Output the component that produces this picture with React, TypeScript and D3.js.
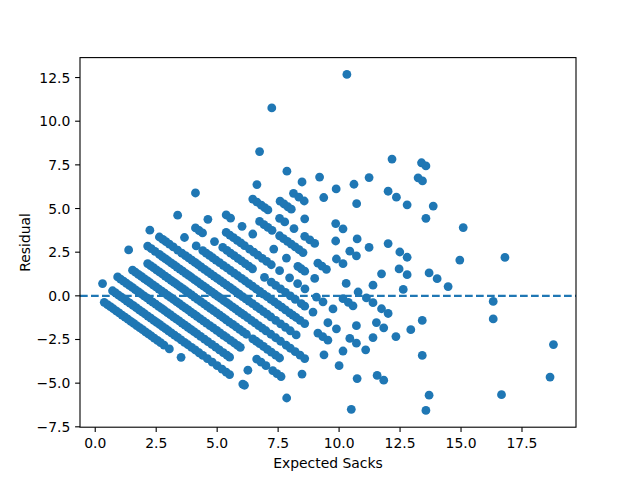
import React from 'react'
import * as d3 from 'd3'

const width = 640
const height = 480
const margin = { top: 57.6, right: 64, bottom: 52.8, left: 80 }
const dotColor = '#1f77b4'
const font = 'DejaVu Sans, sans-serif'

// expected sacks per player, grouped by the number of sacks he actually got
const exp0 = [0.37, 0.5, 0.62, 0.74, 0.86, 0.98, 1.1, 1.22, 1.34, 1.46, 1.58, 1.7, 1.82, 1.94, 2.06, 2.18, 2.3, 2.42, 2.55, 2.68, 2.82, 3.04, 3.52]
const exp1 = [0.3, 0.71, 0.82, 0.94, 1.06, 1.18, 1.3, 1.42, 1.55, 1.68, 1.8, 1.92, 2.04, 2.16, 2.28, 2.4, 2.52, 2.64, 2.76, 2.88, 3.0, 3.12, 3.25, 3.38, 3.52, 3.66, 3.8, 3.95, 4.1, 4.26, 4.41, 4.6, 4.8, 5.0, 5.2, 5.37, 5.51, 6.05, 6.12]
const exp2 = [0.92, 1.04, 1.16, 1.28, 1.4, 1.52, 1.64, 1.76, 1.88, 2.0, 2.12, 2.24, 2.36, 2.48, 2.6, 2.72, 2.84, 2.96, 3.08, 3.2, 3.32, 3.44, 3.56, 3.68, 3.8, 3.92, 4.05, 4.18, 4.32, 4.48, 4.62, 4.78, 4.94, 5.09, 5.25, 5.4, 5.51, 6.26, 7.85]
const exp3 = [1.53, 1.65, 1.77, 1.89, 2.01, 2.13, 2.25, 2.37, 2.49, 2.61, 2.73, 2.85, 2.97, 3.09, 3.21, 3.33, 3.45, 3.57, 3.69, 3.81, 3.93, 4.05, 4.17, 4.3, 4.43, 4.56, 4.7, 4.84, 4.98, 5.12, 5.26, 5.4, 5.55, 5.7, 5.84, 5.95, 6.62, 6.8, 7.0, 7.28, 7.45, 7.62]
const exp4 = [1.37, 2.15, 2.27, 2.39, 2.51, 2.63, 2.75, 2.87, 2.99, 3.11, 3.23, 3.35, 3.47, 3.59, 3.71, 3.83, 3.95, 4.07, 4.2, 4.33, 4.46, 4.59, 4.72, 4.85, 4.98, 5.11, 5.24, 5.37, 5.5, 5.64, 5.78, 5.92, 6.06, 6.2, 6.46, 6.6, 6.74, 6.9, 7.06, 7.22, 7.4, 7.56, 8.48, 10.5]
const exp5 = [2.15, 2.3, 2.45, 2.63, 2.75, 2.87, 2.99, 3.11, 3.23, 3.35, 3.47, 3.59, 3.71, 3.83, 3.95, 4.07, 4.19, 4.31, 4.43, 4.55, 4.67, 4.79, 4.91, 5.03, 5.15, 5.27, 5.39, 5.51, 5.63, 5.75, 5.87, 5.99, 6.11, 6.25, 6.4, 6.55, 6.7, 6.85, 7.0, 7.2, 7.4, 7.6, 7.83, 8.0, 8.2, 8.4, 8.59]
const exp6 = [2.24, 2.63, 2.77, 2.9, 3.04, 3.2, 3.38, 3.55, 3.7, 3.83, 3.96, 4.09, 4.22, 4.35, 4.48, 4.61, 4.74, 4.87, 5.0, 5.13, 5.26, 5.39, 5.52, 5.65, 5.78, 5.91, 6.04, 6.17, 6.3, 6.45, 6.6, 6.75, 6.9, 7.05, 7.2, 7.4, 7.6, 7.8, 8.0, 8.24, 9.38, 10.0, 10.74]
const exp7 = [3.66, 4.14, 4.41, 4.55, 4.68, 4.82, 4.95, 5.1, 5.25, 5.4, 5.55, 5.7, 5.85, 6.0, 6.15, 6.3, 6.45, 6.6, 6.75, 6.9, 7.05, 7.2, 7.35, 7.5, 7.65, 7.8, 7.97, 8.1, 8.24, 8.4, 8.59, 9.13, 9.33, 9.54, 10.16, 11.56, 11.83, 13.56]
const exp8 = [3.38, 4.11, 4.26, 4.4, 4.89, 5.23, 5.4, 5.55, 5.7, 5.85, 6.0, 6.15, 6.3, 6.45, 6.94, 7.22, 7.4, 7.6, 7.8, 8.0, 8.2, 8.45, 8.59, 8.93, 9.54, 9.89, 10.44, 10.71, 11.09, 13.69]
const exp9 = [4.62, 5.37, 5.52, 5.67, 5.82, 5.97, 6.12, 6.33, 6.5, 6.67, 6.85, 7.03, 7.22, 7.56, 7.97, 8.3, 8.6, 9.07, 9.34, 9.75, 10.71, 11.39]
const exp10 = [4.11, 5.37, 5.55, 6.02, 6.46, 7.32, 7.84, 8.31, 8.45, 8.59, 9.0, 10.16, 10.38, 10.57, 11.53, 11.83, 12.33, 13.41]
const exp11 = [6.74, 6.92, 7.08, 7.25, 7.56, 7.72, 7.88, 8.04, 8.2, 8.36, 8.52, 9.13, 9.3, 9.48, 10.29, 10.78, 11.12, 11.39, 11.74, 12.01, 12.94, 16.66]
const exp12 = [6.46, 6.63, 6.81, 6.95, 7.08, 7.56, 7.77, 8.15, 8.59, 8.8, 9.0, 9.89, 10.16, 11.39, 13.41]
const exp13 = [6.63, 7.58, 7.74, 7.9, 8.04, 8.59, 9.86, 10.44, 10.71, 11.74, 12.63]
const exp14 = [8.13, 8.35, 8.57, 9.86, 10.16, 10.74, 11.23, 12.46, 12.79, 18.65]
const exp15 = [6.74, 7.86, 8.48, 9.37, 12.01, 12.49, 12.79, 13.69, 14.02, 14.47, 16.32]
const exp16 = [9.2, 9.88, 10.72, 16.32, 18.79]
const exp17 = [10.61, 14.95]
const exp18 = [7.24, 11.23, 12.01, 12.35, 12.79, 13.56]
const exp19 = [13.86, 15.09, 16.8]
const exp20 = [12.17, 13.24, 13.42]
const exp21 = [13.38, 13.56]
const exp23 = [10.32]

const groups: [number, number[]][] = [
  [0, exp0], [1, exp1], [2, exp2], [3, exp3], [4, exp4], [5, exp5], [6, exp6],
  [7, exp7], [8, exp8], [9, exp9], [10, exp10], [11, exp11], [12, exp12],
  [13, exp13], [14, exp14], [15, exp15], [16, exp16], [17, exp17], [18, exp18],
  [19, exp19], [20, exp20], [21, exp21], [23, exp23],
]

const xTicks = [0, 2.5, 5, 7.5, 10, 12.5, 15, 17.5]
const yTicks = [-7.5, -5, -2.5, 0, 2.5, 5, 7.5, 10, 12.5]

// residual = actual - expected
const points = groups.flatMap(([actual, xs]) => xs.map(e => ({ expected: e, residual: actual - e })))

// matplotlib style 5% padding
const pad = (ext: [number, number]) => {
  const r = ext[1] - ext[0]
  return [ext[0] - r * 0.05, ext[1] + r * 0.05]
}

const App = () => {
  const innerW = width - margin.left - margin.right
  const innerH = height - margin.top - margin.bottom

  const x = d3.scaleLinear()
    .domain(pad(d3.extent(points, d => d.expected) as [number, number]))
    .range([margin.left, margin.left + innerW])
  const y = d3.scaleLinear()
    .domain(pad(d3.extent(points, d => d.residual) as [number, number]))
    .range([margin.top + innerH, margin.top])

  const fmt = d3.format('.1f')
  const bottom = margin.top + innerH
  const right = margin.left + innerW

  return (
    <svg width={width} height={height} style={{ position: 'absolute', left: 0, top: 0, background: '#fff' }}>
      <rect x={0} y={0} width={width} height={height} fill="#fff" />
      <g>
        {points.map((d, i) => (
          <circle key={i} cx={x(d.expected)} cy={y(d.residual)} r={4.4} fill={dotColor} />
        ))}
      </g>
      <line x1={margin.left} x2={right} y1={y(0)} y2={y(0)} stroke={dotColor} strokeWidth={2.08} strokeDasharray="7.7 3.3" />
      <rect x={margin.left} y={margin.top} width={innerW} height={innerH} fill="none" stroke="#000" strokeWidth={1.1} />
      <g fontFamily={font} fontSize={13.9} fill="#000">
        {xTicks.map(t => (
          <g key={t}>
            <line x1={x(t)} x2={x(t)} y1={bottom} y2={bottom + 4.9} stroke="#000" strokeWidth={1.1} />
            <text x={x(t)} y={bottom + 20.5} textAnchor="middle">{fmt(t)}</text>
          </g>
        ))}
        {yTicks.map(t => (
          <g key={t}>
            <line x1={margin.left - 4.9} x2={margin.left} y1={y(t)} y2={y(t)} stroke="#000" strokeWidth={1.1} />
            <text x={margin.left - 9.7} y={y(t) + 5} textAnchor="end">{fmt(t)}</text>
          </g>
        ))}
        <text x={margin.left + innerW / 2} y={467.5} textAnchor="middle">Expected Sacks</text>
        <text transform={`translate(30,${margin.top + innerH / 2}) rotate(-90)`} textAnchor="middle">Residual</text>
      </g>
    </svg>
  )
}

export default App
